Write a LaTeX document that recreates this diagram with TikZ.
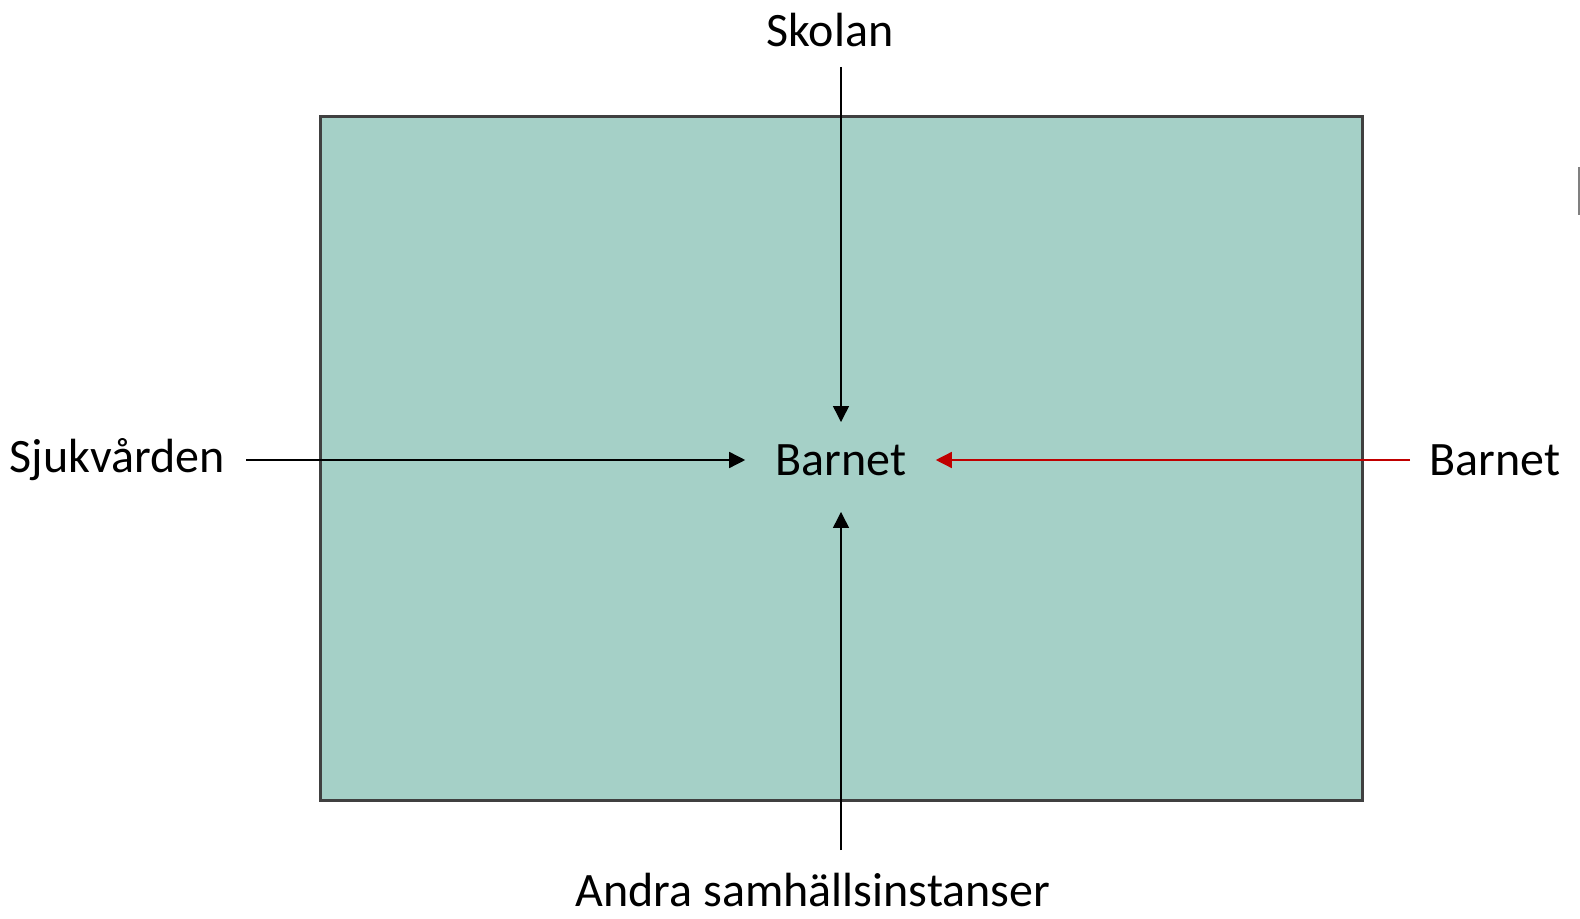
\documentclass[tikz,border=0pt]{standalone}
\usepackage{fontspec}
\setmainfont{Carlito}
\usetikzlibrary{arrows.meta}
\definecolor{boxfill}{HTML}{A5D0C7}
\definecolor{boxline}{HTML}{404040}
\definecolor{redline}{HTML}{C00000}
\begin{document}
\begin{tikzpicture}[x=0.5pt,y=-0.5pt]
\tikzset{every node/.style={inner sep=0pt,font=\fontsize{24}{29}\selectfont},
  arr/.style={line width=0.7pt,-{Triangle[length=8pt,width=8pt]}}}
\useasboundingbox (0,0) rectangle (1580,919);
% box
\draw [boxline,fill=boxfill,line width=1.5pt] (320,117) rectangle (1362,800);
\draw [gray,line width=1pt] (1579,167) -- (1579,215);
% labels
\node (barnet) at (841,460) {Barnet};
\node (skolan) at (830,30) {Skolan};
\node (sjuk) at (117,460) {Sjukvården};
\node (barnetr) at (1495,460) {Barnet};
\node (andra) at (813,890) {Andra samhällsinstanser};
\coordinate (top) at (841,67);
\coordinate (left) at (246,460);
\coordinate (right) at (1410,460);
\coordinate (bottom) at (841,850);
% arrows
\draw [arr,shorten >=11pt] (top) -- (barnet.north);
\draw [arr,shorten >=15pt] (left) -- (barnet.west);
\draw [arr,redline,shorten >=14.5pt] (right) -- (barnet.east);
\draw [arr,shorten >=18pt] (bottom) -- (barnet.south);
\end{tikzpicture}
\end{document}
